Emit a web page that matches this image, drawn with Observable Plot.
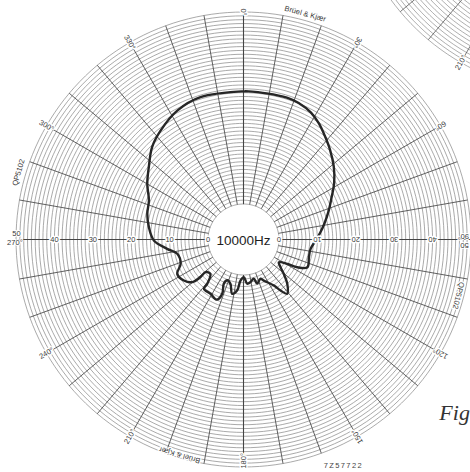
<!DOCTYPE html>
<html>
<head>
<meta charset="utf-8">
<script src="https://cdn.jsdelivr.net/npm/d3@7"></script>
<script src="https://cdn.jsdelivr.net/npm/@observablehq/plot@0.6"></script>
<style>
  html, body { margin: 0; padding: 0; background: #fff; overflow: hidden; }
</style>
</head>
<body>
<div id="chart"></div>
<script>
// ---- data (angle in degrees clockwise from top, level in dB) ----
const curveAngle = [0.8, 9, 17, 22, 28, 33, 38, 44, 51, 58, 65, 72, 79, 85, 91, 98, 105, 113.5,
  117.3, 119.1, 122.7, 126.8, 130.4, 135.4, 141.2, 144, 146.6, 153.7, 156.6, 162.8, 165.3, 170.7,
  175.2, 179.5, 184.2, 187, 191.8, 196.4, 201.7, 204, 201.4, 203.9, 211.3, 218.8, 219.3, 223.9,
  229.3, 228.8, 230.2, 235.5, 242.6, 248.9, 257.8, 263, 269.4, 277.4, 285, 292.4, 300, 307.4,
  315.3, 322.7, 332.8, 343.2, 360.8];
const curveLevel = [29.4, 29.3, 29.4, 29.1, 28.2, 26.8, 25.1, 23.2, 21.0, 18.6, 16.0, 14.0, 12.2, 10.8, 9.5, 8.4, 8.4, 8.9,
  6.5, 3.8, 1.7, 2.8, 4.5, 7.0, 8.9, 7.2, 5.1, 2.7, 1.9, 2.8, 1.3, 2.0,
  2.3, 0.6, 1.5, 4.1, 5.2, 2.8, 2.2, 3.4, 5.9, 7.9, 7.3, 7.2, 5.7, 3.2,
  3.8, 5.6, 8.1, 9.6, 10.2, 8.3, 8.4, 10.8, 14.1, 15.6, 16.7, 17.4, 19.7, 21.8,
  24.6, 26.4, 28.5, 29.5, 29.4];
const ringLevels = d3.range(0, 51, 1);          // 1 dB rings, 0..50
const spokeAngles = d3.range(0, 360, 10);       // 10 degree spokes
const axisTicks = [0, 10, 20, 30, 40];          // dB labels on the 270/90 line
const angleTickLabels = [0, 30, 60, 120, 150, 180, 210, 240, 300, 330];
const centreLabel = "10000Hz";
const makerLabel = "Brüel & Kjær";
const paperLabel = "QP5102";
const refLabel = "7Z57722";
const figLabel = "Fig";

// ---- geometry helpers (chart units: 1 unit = 1 dB radially) ----
const R0 = 9.24;  // radius of the 0 dB ring
const toX = (a, r) => (r + R0) * Math.sin(a * Math.PI / 180);
const toY = (a, r) => (r + R0) * Math.cos(a * Math.PI / 180);
const OFF2 = [86.2, 97.4]; // centre of the neighbouring chart (top right)

function ringPoints(ox, oy) {
  const pts = [];
  for (const lv of ringLevels) {
    for (let a = 0; a <= 360; a += 2) pts.push({x: toX(a, lv) + ox, y: toY(a, lv) + oy, z: lv});
  }
  return pts;
}
function spokes(ox, oy) {
  return spokeAngles.map(a => ({a, x1: toX(a, 0) + ox, y1: toY(a, 0) + oy, x2: toX(a, 50) + ox, y2: toY(a, 50) + oy}));
}

const curve = curveAngle.map((a, i) => ({x: toX(a, curveLevel[i]), y: toY(a, curveLevel[i])}));

const dbLabels = [
  ...axisTicks.map(v => ({x: toX(270, v), y: toY(270, v), t: String(v), r: 0})),
  ...axisTicks.map(v => ({x: toX(90, v), y: toY(90, v), t: String(v), r: 180}))
];
const angLabels = angleTickLabels.map(a => {
  const lv = a === 180 ? 48.4 : 50;
  return {x: toX(a, lv), y: toY(a, lv), t: a + "°", r: a + 90};
});
const endLabels = [
  {x: toX(270, 49.9), y: toY(270, 49.9) + 1.6, t: "50", r: 0},
  {x: toX(270, 50.3), y: toY(270, 50.3) - 0.7, t: "270°", r: 0},
  {x: toX(90, 48.3), y: toY(90, 48.3) - 1.6, t: "50", r: 180},
  {x: toX(90, 48.0), y: toY(90, 48.0) + 0.7, t: "90°", r: 180}
];
const sideLabels = [
  {x: toX(15.3, 51.7), y: toY(15.3, 51.7), t: makerLabel, r: 15.3},
  {x: toX(196.5, 49.3), y: toY(196.5, 49.3), t: makerLabel, r: 196.5},
  {x: toX(286.6, 51.9), y: toY(286.6, 51.9), t: paperLabel, r: 286.6},
  {x: toX(104.6, 48.6), y: toY(104.6, 48.6), t: paperLabel, r: 104.6},
  {x: toX(210, 50) + OFF2[0], y: toY(210, 50) + OFF2[1], t: "210°", r: 300}
];

const PX = 3.84;
const chart = Plot.plot({
  width: 470,
  height: 472,
  margin: 0,
  x: {domain: [-243 / PX, 227 / PX], axis: null},
  y: {domain: [-(472 - 239) / PX, 239 / PX], axis: null},
  style: {background: "#fff", fontFamily: "Liberation Sans, Arial, sans-serif"},
  marks: [
    // neighbouring chart (partially visible)
    Plot.line(ringPoints(OFF2[0], OFF2[1]), {x: "x", y: "y", z: "z", stroke: "#8c8c8c", strokeWidth: 0.7}),
    Plot.link(spokes(OFF2[0], OFF2[1]), {x1: "x1", y1: "y1", x2: "x2", y2: "y2", stroke: "#555", strokeWidth: 0.8}),
    // main grid
    Plot.line(ringPoints(0, 0), {x: "x", y: "y", z: "z", stroke: "#888", strokeWidth: 0.72}),
    Plot.link(spokes(0, 0), {x1: "x1", y1: "y1", x2: "x2", y2: "y2",
      stroke: "#444", strokeWidth: d => (d.a % 90 === 0 ? 1.1 : 0.85)}),
    // measured response
    Plot.line(curve, {x: "x", y: "y", stroke: "#262626", strokeWidth: 2.4, curve: "catmull-rom", strokeLinejoin: "round"}),
    // labels
    Plot.text(dbLabels, {x: "x", y: "y", text: "t", rotate: "r", fontSize: 7.5, fill: "#3a3a3a",
      stroke: "#fff", strokeWidth: 3, paintOrder: "stroke"}),
    Plot.text(angLabels, {x: "x", y: "y", text: "t", rotate: "r", fontSize: 7.5, fill: "#3a3a3a",
      stroke: "#fff", strokeWidth: 3, paintOrder: "stroke"}),
    Plot.text(endLabels, {x: "x", y: "y", text: "t", rotate: "r", fontSize: 7.5, fill: "#3a3a3a",
      stroke: "#fff", strokeWidth: 2, paintOrder: "stroke"}),
    Plot.text(sideLabels, {x: "x", y: "y", text: "t", rotate: "r", fontSize: 7.5, fill: "#3a3a3a",
      stroke: "#fff", strokeWidth: 2.5, paintOrder: "stroke"}),
    Plot.text([centreLabel], {x: 0, y: -0.2, text: d => d, fontSize: 13.5, fill: "#1e1e1e"}),
    Plot.text([refLabel], {x: 26.0, y: -58.9, text: d => d, fontSize: 7.5, fill: "#444", className: "refcode"}),
    Plot.text([figLabel], {x: 51.0, y: -47.1, text: d => d, fontSize: 22, fill: "#333",
      textAnchor: "start", lineAnchor: "bottom", fontFamily: "Liberation Serif, serif", fontStyle: "italic"})
  ]
});
document.getElementById("chart").appendChild(chart);
d3.select(chart).selectAll(".refcode text").attr("letter-spacing", "1.4");
</script>
</body>
</html>
